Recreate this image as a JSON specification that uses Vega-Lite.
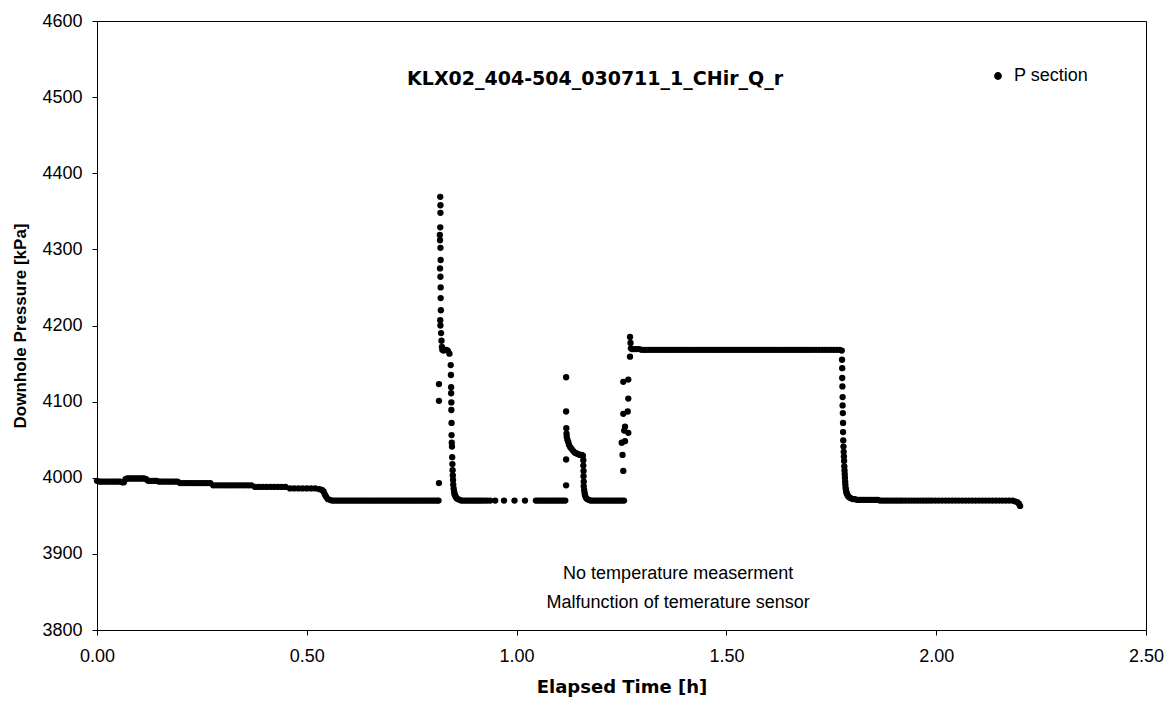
{
  "$schema": "https://vega.github.io/schema/vega-lite/v6.json",
  "width": 1049,
  "height": 609,
  "autosize": {"type": "none"},
  "padding": {"left": 97, "top": 21, "right": 30, "bottom": 79},
  "background": "white",
  "config": {
    "view": {"stroke": "black", "strokeWidth": 1},
    "axis": {
      "grid": false,
      "domainColor": "black",
      "tickColor": "black",
      "tickSize": 5,
      "labelFont": "Liberation Sans",
      "labelFontSize": 18,
      "labelColor": "black",
      "titleFont": "Liberation Sans",
      "titleFontSize": 17,
      "titleFontWeight": "bold",
      "titleColor": "black"
    }
  },
  "datasets": {
    "pressure": [
      {"t":0.000,"p":3996},{"t":0.005,"p":3995},{"t":0.010,"p":3995},{"t":0.015,"p":3995},{"t":0.020,"p":3995},{"t":0.025,"p":3995},{"t":0.030,"p":3995},{"t":0.035,"p":3995},{"t":0.040,"p":3995},{"t":0.045,"p":3995},{"t":0.050,"p":3995},{"t":0.055,"p":3995},{"t":0.060,"p":3994},{"t":0.064,"p":3994},{"t":0.068,"p":3998},{"t":0.072,"p":3999},{"t":0.077,"p":3999},{"t":0.082,"p":3999},{"t":0.087,"p":3999},{"t":0.092,"p":3999},{"t":0.097,"p":3999},{"t":0.102,"p":3999},{"t":0.107,"p":3999},{"t":0.112,"p":3999},{"t":0.117,"p":3998},{"t":0.122,"p":3996},{"t":0.127,"p":3996},{"t":0.132,"p":3996},{"t":0.137,"p":3996},{"t":0.142,"p":3996},{"t":0.147,"p":3995},{"t":0.152,"p":3995},{"t":0.157,"p":3995},{"t":0.162,"p":3995},{"t":0.167,"p":3995},{"t":0.172,"p":3995},{"t":0.177,"p":3995},{"t":0.182,"p":3995},{"t":0.187,"p":3995},{"t":0.192,"p":3995},{"t":0.198,"p":3993},{"t":0.204,"p":3993},{"t":0.210,"p":3993},{"t":0.216,"p":3993},{"t":0.222,"p":3993},{"t":0.228,"p":3993},{"t":0.234,"p":3993},{"t":0.240,"p":3993},{"t":0.246,"p":3993},{"t":0.252,"p":3993},{"t":0.258,"p":3993},{"t":0.264,"p":3993},{"t":0.270,"p":3993},{"t":0.277,"p":3990},{"t":0.284,"p":3990},{"t":0.291,"p":3990},{"t":0.298,"p":3990},{"t":0.305,"p":3990},{"t":0.312,"p":3990},{"t":0.319,"p":3990},{"t":0.326,"p":3990},{"t":0.333,"p":3990},{"t":0.340,"p":3990},{"t":0.347,"p":3990},{"t":0.354,"p":3990},{"t":0.361,"p":3990},{"t":0.368,"p":3990},{"t":0.377,"p":3988},{"t":0.386,"p":3988},{"t":0.395,"p":3988},{"t":0.404,"p":3988},{"t":0.413,"p":3988},{"t":0.422,"p":3988},{"t":0.431,"p":3988},{"t":0.440,"p":3988},{"t":0.449,"p":3988},{"t":0.460,"p":3986},{"t":0.470,"p":3986},{"t":0.480,"p":3986},{"t":0.490,"p":3986},{"t":0.500,"p":3986},{"t":0.510,"p":3986},{"t":0.520,"p":3986},{"t":0.530,"p":3985},{"t":0.536,"p":3984},{"t":0.540,"p":3982},{"t":0.543,"p":3978},{"t":0.546,"p":3975},{"t":0.550,"p":3972},{"t":0.555,"p":3971},
      {"t":0.560,"p":3970},{"t":0.565,"p":3970},{"t":0.570,"p":3970},{"t":0.575,"p":3970},{"t":0.580,"p":3970},{"t":0.585,"p":3970},{"t":0.590,"p":3970},{"t":0.595,"p":3970},{"t":0.600,"p":3970},{"t":0.605,"p":3970},{"t":0.610,"p":3970},{"t":0.615,"p":3970},{"t":0.620,"p":3970},{"t":0.625,"p":3970},{"t":0.630,"p":3970},{"t":0.635,"p":3970},{"t":0.640,"p":3970},{"t":0.645,"p":3970},{"t":0.650,"p":3970},{"t":0.655,"p":3970},{"t":0.660,"p":3970},{"t":0.665,"p":3970},{"t":0.670,"p":3970},{"t":0.675,"p":3970},{"t":0.680,"p":3970},{"t":0.685,"p":3970},{"t":0.690,"p":3970},{"t":0.695,"p":3970},{"t":0.700,"p":3970},{"t":0.705,"p":3970},{"t":0.710,"p":3970},{"t":0.715,"p":3970},{"t":0.720,"p":3970},{"t":0.725,"p":3970},{"t":0.730,"p":3970},{"t":0.735,"p":3970},{"t":0.740,"p":3970},{"t":0.745,"p":3970},{"t":0.750,"p":3970},{"t":0.755,"p":3970},{"t":0.760,"p":3970},{"t":0.765,"p":3970},{"t":0.770,"p":3970},{"t":0.775,"p":3970},{"t":0.780,"p":3970},{"t":0.785,"p":3970},{"t":0.790,"p":3970},{"t":0.795,"p":3970},{"t":0.800,"p":3970},{"t":0.805,"p":3970},{"t":0.810,"p":3970},{"t":0.814,"p":3970},
      {"t":0.815,"p":3993},{"t":0.815,"p":4101},{"t":0.815,"p":4123},{"t":0.818,"p":4369},{"t":0.8185,"p":4358},{"t":0.8185,"p":4348},{"t":0.818,"p":4329},{"t":0.817,"p":4319},{"t":0.8175,"p":4312},{"t":0.8185,"p":4302},{"t":0.819,"p":4286},{"t":0.8175,"p":4275},{"t":0.8185,"p":4264},{"t":0.819,"p":4250},{"t":0.819,"p":4236},{"t":0.8195,"p":4220},{"t":0.818,"p":4207},{"t":0.8185,"p":4200},{"t":0.820,"p":4190},{"t":0.821,"p":4180},{"t":0.822,"p":4172},{"t":0.823,"p":4168},{"t":0.826,"p":4167},{"t":0.829,"p":4168},{"t":0.832,"p":4168},{"t":0.836,"p":4167},{"t":0.840,"p":4163},{"t":0.843,"p":4148},{"t":0.8435,"p":4135},{"t":0.844,"p":4119},{"t":0.844,"p":4111},{"t":0.8445,"p":4099},{"t":0.8445,"p":4089},{"t":0.845,"p":4072},{"t":0.845,"p":4056},{"t":0.8455,"p":4046},{"t":0.846,"p":4041},{"t":0.8465,"p":4027},{"t":0.847,"p":4018},{"t":0.8475,"p":4010},{"t":0.848,"p":4003},{"t":0.8485,"p":3997},{"t":0.849,"p":3991},{"t":0.850,"p":3986},{"t":0.851,"p":3982},{"t":0.852,"p":3979},{"t":0.853,"p":3977},{"t":0.855,"p":3975},{"t":0.857,"p":3973},{"t":0.860,"p":3972},{"t":0.864,"p":3971},
      {"t":0.868,"p":3970},{"t":0.873,"p":3970},{"t":0.878,"p":3970},{"t":0.883,"p":3970},{"t":0.888,"p":3970},{"t":0.893,"p":3970},{"t":0.898,"p":3970},{"t":0.903,"p":3970},{"t":0.908,"p":3970},{"t":0.913,"p":3970},{"t":0.918,"p":3970},{"t":0.924,"p":3970},{"t":0.930,"p":3970},{"t":0.937,"p":3970},{"t":0.949,"p":3970},{"t":0.970,"p":3970},{"t":0.995,"p":3970},{"t":1.020,"p":3970},
      {"t":1.046,"p":3970},{"t":1.051,"p":3970},{"t":1.056,"p":3970},{"t":1.061,"p":3970},{"t":1.066,"p":3970},{"t":1.071,"p":3970},{"t":1.076,"p":3970},{"t":1.081,"p":3970},{"t":1.086,"p":3970},{"t":1.091,"p":3970},{"t":1.096,"p":3970},{"t":1.101,"p":3970},{"t":1.106,"p":3970},{"t":1.111,"p":3970},{"t":1.116,"p":3970},
      {"t":1.118,"p":3990},{"t":1.118,"p":4024},{"t":1.118,"p":4132},{"t":1.118,"p":4087},{"t":1.1185,"p":4065},{"t":1.119,"p":4058},{"t":1.1195,"p":4054},{"t":1.121,"p":4050},{"t":1.123,"p":4047},{"t":1.125,"p":4043},{"t":1.128,"p":4040},{"t":1.131,"p":4038},{"t":1.135,"p":4035},{"t":1.139,"p":4033},{"t":1.143,"p":4032},{"t":1.147,"p":4031},{"t":1.151,"p":4030},{"t":1.155,"p":4030},{"t":1.158,"p":4029},{"t":1.159,"p":4023},{"t":1.159,"p":4016},{"t":1.1595,"p":4009},{"t":1.1595,"p":4002},{"t":1.160,"p":3995},{"t":1.160,"p":3989},{"t":1.161,"p":3984},{"t":1.162,"p":3980},{"t":1.163,"p":3977},{"t":1.165,"p":3974},{"t":1.168,"p":3972},{"t":1.172,"p":3971},
      {"t":1.176,"p":3970},{"t":1.181,"p":3970},{"t":1.186,"p":3970},{"t":1.191,"p":3970},{"t":1.196,"p":3970},{"t":1.201,"p":3970},{"t":1.206,"p":3970},{"t":1.211,"p":3970},{"t":1.216,"p":3970},{"t":1.221,"p":3970},{"t":1.226,"p":3970},{"t":1.231,"p":3970},{"t":1.236,"p":3970},{"t":1.241,"p":3970},{"t":1.246,"p":3970},{"t":1.251,"p":3970},{"t":1.256,"p":3970},
      {"t":1.2543,"p":4009},{"t":1.2525,"p":4030},{"t":1.2505,"p":4046},{"t":1.2583,"p":4048},{"t":1.2662,"p":4059},{"t":1.2583,"p":4067},{"t":1.2565,"p":4062},{"t":1.2648,"p":4087},{"t":1.2543,"p":4084},{"t":1.2662,"p":4104},{"t":1.2662,"p":4129},{"t":1.2543,"p":4126},{"t":1.2703,"p":4159},{"t":1.2703,"p":4185},{"t":1.2715,"p":4177},{"t":1.2725,"p":4170},{"t":1.275,"p":4169},
      {"t":1.280,"p":4169},{"t":1.286,"p":4169},{"t":1.292,"p":4169},{"t":1.298,"p":4168},{"t":1.304,"p":4168},{"t":1.310,"p":4168},{"t":1.316,"p":4168},{"t":1.322,"p":4168},{"t":1.328,"p":4168},{"t":1.334,"p":4168},{"t":1.340,"p":4168},{"t":1.346,"p":4168},{"t":1.352,"p":4168},{"t":1.358,"p":4168},{"t":1.364,"p":4168},{"t":1.370,"p":4168},{"t":1.376,"p":4168},{"t":1.382,"p":4168},{"t":1.388,"p":4168},{"t":1.394,"p":4168},{"t":1.400,"p":4168},{"t":1.406,"p":4168},{"t":1.412,"p":4168},{"t":1.418,"p":4168},{"t":1.424,"p":4168},{"t":1.430,"p":4168},{"t":1.436,"p":4168},{"t":1.442,"p":4168},{"t":1.448,"p":4168},{"t":1.454,"p":4168},{"t":1.460,"p":4168},{"t":1.466,"p":4168},{"t":1.472,"p":4168},{"t":1.478,"p":4168},{"t":1.484,"p":4168},{"t":1.490,"p":4168},{"t":1.496,"p":4168},{"t":1.502,"p":4168},{"t":1.508,"p":4168},{"t":1.514,"p":4168},{"t":1.520,"p":4168},{"t":1.526,"p":4168},{"t":1.532,"p":4168},{"t":1.538,"p":4168},{"t":1.544,"p":4168},{"t":1.550,"p":4168},{"t":1.556,"p":4168},{"t":1.562,"p":4168},{"t":1.568,"p":4168},{"t":1.574,"p":4168},{"t":1.580,"p":4168},{"t":1.586,"p":4168},{"t":1.592,"p":4168},{"t":1.598,"p":4168},{"t":1.604,"p":4168},{"t":1.610,"p":4168},{"t":1.616,"p":4168},{"t":1.622,"p":4168},{"t":1.628,"p":4168},{"t":1.634,"p":4168},{"t":1.640,"p":4168},{"t":1.646,"p":4168},{"t":1.652,"p":4168},{"t":1.658,"p":4168},{"t":1.664,"p":4168},{"t":1.670,"p":4168},{"t":1.676,"p":4168},{"t":1.682,"p":4168},{"t":1.688,"p":4168},{"t":1.694,"p":4168},{"t":1.700,"p":4168},{"t":1.707,"p":4168},{"t":1.714,"p":4168},{"t":1.721,"p":4168},{"t":1.728,"p":4168},{"t":1.735,"p":4168},{"t":1.742,"p":4168},{"t":1.749,"p":4168},{"t":1.756,"p":4168},{"t":1.763,"p":4168},{"t":1.770,"p":4168},
      {"t":1.775,"p":4167},{"t":1.7755,"p":4155},{"t":1.776,"p":4144},{"t":1.776,"p":4131},{"t":1.7765,"p":4120},{"t":1.777,"p":4106},{"t":1.777,"p":4095},{"t":1.7775,"p":4085},{"t":1.778,"p":4072},{"t":1.778,"p":4060},{"t":1.7785,"p":4049},{"t":1.779,"p":4041},{"t":1.7795,"p":4034},{"t":1.780,"p":4028},{"t":1.7805,"p":4022},{"t":1.781,"p":4015},{"t":1.7815,"p":4010},{"t":1.782,"p":4005},{"t":1.7825,"p":4000},{"t":1.783,"p":3995},{"t":1.7835,"p":3991},{"t":1.784,"p":3987},{"t":1.785,"p":3984},{"t":1.786,"p":3981},{"t":1.787,"p":3979},{"t":1.789,"p":3977},{"t":1.791,"p":3975},{"t":1.794,"p":3974},{"t":1.797,"p":3973},{"t":1.801,"p":3972},{"t":1.806,"p":3972},
      {"t":1.811,"p":3971},{"t":1.816,"p":3971},{"t":1.821,"p":3971},{"t":1.826,"p":3971},{"t":1.831,"p":3971},{"t":1.836,"p":3971},{"t":1.841,"p":3971},{"t":1.846,"p":3971},{"t":1.851,"p":3971},{"t":1.856,"p":3971},{"t":1.861,"p":3971},{"t":1.866,"p":3970},{"t":1.872,"p":3970},{"t":1.878,"p":3970},{"t":1.884,"p":3970},{"t":1.890,"p":3970},{"t":1.896,"p":3970},{"t":1.902,"p":3970},{"t":1.908,"p":3970},{"t":1.914,"p":3970},{"t":1.920,"p":3970},{"t":1.927,"p":3970},{"t":1.934,"p":3970},{"t":1.941,"p":3970},{"t":1.948,"p":3970},{"t":1.955,"p":3970},{"t":1.962,"p":3970},{"t":1.969,"p":3970},{"t":1.976,"p":3970},{"t":1.983,"p":3970},{"t":1.990,"p":3970},{"t":1.998,"p":3970},{"t":2.006,"p":3970},{"t":2.014,"p":3970},{"t":2.022,"p":3970},{"t":2.030,"p":3970},{"t":2.038,"p":3970},{"t":2.046,"p":3970},{"t":2.054,"p":3970},{"t":2.062,"p":3970},{"t":2.070,"p":3970},{"t":2.078,"p":3970},{"t":2.086,"p":3970},{"t":2.094,"p":3970},{"t":2.102,"p":3970},{"t":2.110,"p":3970},{"t":2.118,"p":3970},{"t":2.126,"p":3970},{"t":2.134,"p":3970},{"t":2.142,"p":3970},{"t":2.150,"p":3970},{"t":2.158,"p":3970},{"t":2.166,"p":3970},{"t":2.174,"p":3970},{"t":2.182,"p":3970},{"t":2.188,"p":3969},{"t":2.193,"p":3968},{"t":2.197,"p":3966},{"t":2.200,"p":3963}
    ],
    "title": [{"t": 1.187, "p": 4524, "label": "KLX02_404-504_030711_1_CHir_Q_r"}],
    "notes": [
      {"t": 1.385, "p": 3874, "label": "No temperature measerment"},
      {"t": 1.385, "p": 3836, "label": "Malfunction of temerature sensor"}
    ]
  },
  "layer": [
    {
      "data": {"name": "pressure"},
      "mark": {"type": "point", "filled": true, "shape": "circle", "size": 40, "opacity": 1},
      "encoding": {
        "x": {
          "field": "t", "type": "quantitative",
          "scale": {"domain": [0, 2.5], "nice": false, "zero": false},
          "axis": {"title": "Elapsed Time [h]", "titleFont": "DejaVu Sans", "titleFontSize": 18, "values": [0, 0.5, 1, 1.5, 2, 2.5], "format": ".2f", "labelPadding": 12, "titlePadding": 13, "labelFlush": false}
        },
        "y": {
          "field": "p", "type": "quantitative",
          "scale": {"domain": [3800, 4600], "nice": false, "zero": false},
          "axis": {"title": "Downhole Pressure [kPa]", "values": [3800, 3900, 4000, 4100, 4200, 4300, 4400, 4500, 4600], "format": "d", "labelPadding": 10, "titlePadding": 12, "labelFlush": false}
        },
        "color": {
          "datum": "P section",
          "type": "nominal",
          "scale": {"range": ["black"]},
          "legend": {
            "title": null,
            "orient": "none",
            "legendX": 892,
            "legendY": 46,
            "padding": 0,
            "symbolType": "circle",
            "symbolSize": 40,
            "symbolFillColor": "black",
            "symbolStrokeColor": "black",
            "labelFont": "Liberation Sans",
            "labelFontSize": 18,
            "labelColor": "black",
            "labelOffset": 7
          }
        }
      }
    },
    {
      "data": {"name": "title"},
      "mark": {"type": "text", "font": "DejaVu Sans", "fontSize": 19, "fontWeight": "bold", "color": "black", "align": "center", "baseline": "middle"},
      "encoding": {
        "x": {"field": "t", "type": "quantitative"},
        "y": {"field": "p", "type": "quantitative"},
        "text": {"field": "label"}
      }
    },
    {
      "data": {"name": "notes"},
      "mark": {"type": "text", "font": "Liberation Sans", "fontSize": 18, "color": "black", "align": "center", "baseline": "middle"},
      "encoding": {
        "x": {"field": "t", "type": "quantitative"},
        "y": {"field": "p", "type": "quantitative"},
        "text": {"field": "label"}
      }
    }
  ]
}
